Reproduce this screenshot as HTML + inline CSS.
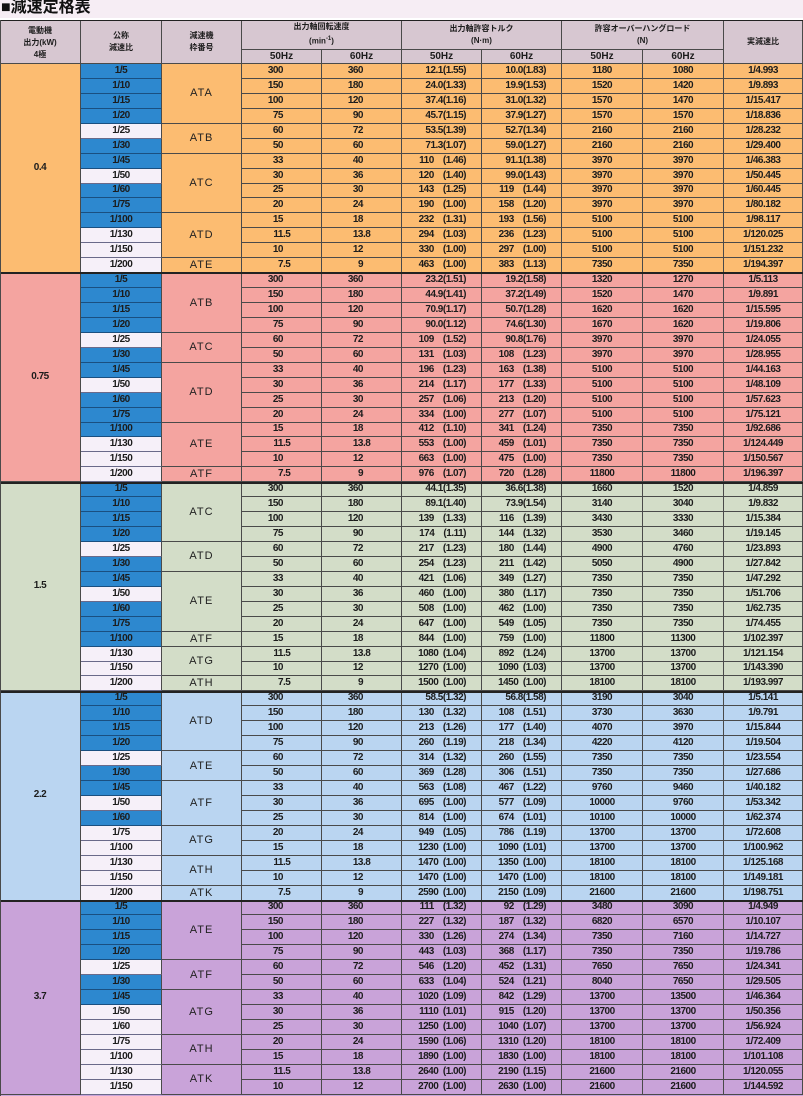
<!DOCTYPE html>
<html><head><meta charset="utf-8">
<style>
*{margin:0;padding:0;box-sizing:border-box}
html,body{width:803px;height:1096px;overflow:hidden;background:#fff}
body{position:relative;font-family:"Liberation Sans","Noto Sans CJK JP",sans-serif;color:#1c1c1c}
#title{position:absolute;left:0;top:0;width:803px;height:18px;background:#f6edf4}
#title span{position:absolute;left:1px;top:-2px;font-weight:bold;font-size:16px;line-height:20px;font-family:"Liberation Sans","Noto Sans CJK JP",sans-serif;color:#111}
.band{position:absolute;left:0;width:803px;z-index:0}
.ln{position:absolute;left:0;width:803px;background:#222;z-index:2}
#g{position:absolute;left:0;top:20px;width:803px;z-index:1;display:grid;grid-template-columns:81px 81px 80px 80px 80px 80px 80px 81px 81px 79px;grid-template-rows:30px 14px repeat(69,14.95px)}
#g>div{border-right:1px solid #4a4a4a;border-bottom:1px solid #4a4a4a;display:flex;align-items:center;justify-content:center;font-size:10px;font-weight:bold;letter-spacing:-.5px;white-space:pre;overflow:hidden;line-height:12px}
#g>div.h{font-size:8px;letter-spacing:0;line-height:12px;text-align:center;font-family:"Liberation Sans","Noto Sans CJK JP",sans-serif}
#g>div.h2{font-size:10px;letter-spacing:0}
#g>div.b{background:#2d88cf;border-bottom-color:#1a4f80}
#g>div.w{background:#f6f0f9;border-bottom-color:#6a6a8a}
#g>div.t{font-size:11px;font-weight:normal;letter-spacing:1px;color:#222}
#g>div.s{justify-content:flex-start}
#g>div.s i{font-style:normal;display:inline-block;width:41px;text-align:right}
#g>div.q{justify-content:flex-end;padding-right:15px}
#g>div.m{font-size:10px}
</style></head><body>
<div id="title"><span>■減速定格表</span></div>
<div class="band" style="top:20px;height:44px;background:#d7c7d1"></div>
<div class="band" style="top:64px;height:209.3px;background:#fcbc71"></div>
<div class="band" style="top:273.3px;height:209.3px;background:#f4a4a0"></div>
<div class="band" style="top:482.6px;height:209.3px;background:#d3ddc8"></div>
<div class="band" style="top:691.9px;height:209.3px;background:#bad5f1"></div>
<div class="band" style="top:901.2px;height:195px;background:#c9a3d9"></div>
<div class="ln" style="top:19.5px;height:1px"></div>
<div class="ln" style="top:272.3px;height:2px"></div>
<div class="ln" style="top:481.6px;height:2px"></div>
<div class="ln" style="top:690.9px;height:2px"></div>
<div class="ln" style="top:900.2px;height:2px"></div>
<div style="position:absolute;left:0;top:20px;width:1px;height:1076px;background:#4a4a4a;z-index:2"></div>
<div id="g">
<div class="h" style="grid-row:span 2;align-items:flex-start;padding-top:5px"><p>電動機<br>出力(kW)<br>4極</p></div>
<div class="h" style="grid-row:span 2"><p>公称<br>減速比</p></div>
<div class="h" style="grid-row:span 2"><p>減速機<br>枠番号</p></div>
<div class="h" style="grid-column:span 2"><p>出力軸回転速度<br>(min<sup style="font-size:6px">-1</sup>)</p></div>
<div class="h" style="grid-column:span 2"><p>出力軸許容トルク<br>(N·m)</p></div>
<div class="h" style="grid-column:span 2"><p>許容オーバーハングロード<br>(N)</p></div>
<div class="h" style="grid-row:span 2"><p>実減速比</p></div>
<div class="h h2">50Hz</div><div class="h h2">60Hz</div><div class="h h2">50Hz</div><div class="h h2">60Hz</div><div class="h h2">50Hz</div><div class="h h2">60Hz</div>

<div class="m" style="grid-row:span 14">0.4</div>
<div class="b">1/5</div><div class="t" style="grid-row:span 4">ATA</div><div class="s"><i>300</i></div><div class="s"><i>360</i></div><div class="q">12.1(1.55)</div><div class="q">10.0(1.83)</div><div>1180</div><div>1080</div><div>1/4.993</div>
<div class="b">1/10</div><div class="s"><i>150</i></div><div class="s"><i>180</i></div><div class="q">24.0(1.33)</div><div class="q">19.9(1.53)</div><div>1520</div><div>1420</div><div>1/9.893</div>
<div class="b">1/15</div><div class="s"><i>100</i></div><div class="s"><i>120</i></div><div class="q">37.4(1.16)</div><div class="q">31.0(1.32)</div><div>1570</div><div>1470</div><div>1/15.417</div>
<div class="b">1/20</div><div class="s"><i>75</i></div><div class="s"><i>90</i></div><div class="q">45.7(1.15)</div><div class="q">37.9(1.27)</div><div>1570</div><div>1570</div><div>1/18.836</div>
<div class="w">1/25</div><div class="t" style="grid-row:span 2">ATB</div><div class="s"><i>60</i></div><div class="s"><i>72</i></div><div class="q">53.5(1.39)</div><div class="q">52.7(1.34)</div><div>2160</div><div>2160</div><div>1/28.232</div>
<div class="b">1/30</div><div class="s"><i>50</i></div><div class="s"><i>60</i></div><div class="q">71.3(1.07)</div><div class="q">59.0(1.27)</div><div>2160</div><div>2160</div><div>1/29.400</div>
<div class="b">1/45</div><div class="t" style="grid-row:span 4">ATC</div><div class="s"><i>33</i></div><div class="s"><i>40</i></div><div class="q">110    (1.46)</div><div class="q">91.1(1.38)</div><div>3970</div><div>3970</div><div>1/46.383</div>
<div class="w">1/50</div><div class="s"><i>30</i></div><div class="s"><i>36</i></div><div class="q">120    (1.40)</div><div class="q">99.0(1.43)</div><div>3970</div><div>3970</div><div>1/50.445</div>
<div class="b">1/60</div><div class="s"><i>25</i></div><div class="s"><i>30</i></div><div class="q">143    (1.25)</div><div class="q">119    (1.44)</div><div>3970</div><div>3970</div><div>1/60.445</div>
<div class="b">1/75</div><div class="s"><i>20</i></div><div class="s"><i>24</i></div><div class="q">190    (1.00)</div><div class="q">158    (1.20)</div><div>3970</div><div>3970</div><div>1/80.182</div>
<div class="b">1/100</div><div class="t" style="grid-row:span 3">ATD</div><div class="s"><i>15</i></div><div class="s"><i>18</i></div><div class="q">232    (1.31)</div><div class="q">193    (1.56)</div><div>5100</div><div>5100</div><div>1/98.117</div>
<div class="w">1/130</div><div class="s"><i>11</i>.5</div><div class="s"><i>13</i>.8</div><div class="q">294    (1.03)</div><div class="q">236    (1.23)</div><div>5100</div><div>5100</div><div>1/120.025</div>
<div class="w">1/150</div><div class="s"><i>10</i></div><div class="s"><i>12</i></div><div class="q">330    (1.00)</div><div class="q">297    (1.00)</div><div>5100</div><div>5100</div><div>1/151.232</div>
<div class="w">1/200</div><div class="t">ATE</div><div class="s"><i>7</i>.5</div><div class="s"><i>9</i></div><div class="q">463    (1.00)</div><div class="q">383    (1.13)</div><div>7350</div><div>7350</div><div>1/194.397</div>

<div class="m" style="grid-row:span 14">0.75</div>
<div class="b">1/5</div><div class="t" style="grid-row:span 4">ATB</div><div class="s"><i>300</i></div><div class="s"><i>360</i></div><div class="q">23.2(1.51)</div><div class="q">19.2(1.58)</div><div>1320</div><div>1270</div><div>1/5.113</div>
<div class="b">1/10</div><div class="s"><i>150</i></div><div class="s"><i>180</i></div><div class="q">44.9(1.41)</div><div class="q">37.2(1.49)</div><div>1520</div><div>1470</div><div>1/9.891</div>
<div class="b">1/15</div><div class="s"><i>100</i></div><div class="s"><i>120</i></div><div class="q">70.9(1.17)</div><div class="q">50.7(1.28)</div><div>1620</div><div>1620</div><div>1/15.595</div>
<div class="b">1/20</div><div class="s"><i>75</i></div><div class="s"><i>90</i></div><div class="q">90.0(1.12)</div><div class="q">74.6(1.30)</div><div>1670</div><div>1620</div><div>1/19.806</div>
<div class="w">1/25</div><div class="t" style="grid-row:span 2">ATC</div><div class="s"><i>60</i></div><div class="s"><i>72</i></div><div class="q">109    (1.52)</div><div class="q">90.8(1.76)</div><div>3970</div><div>3970</div><div>1/24.055</div>
<div class="b">1/30</div><div class="s"><i>50</i></div><div class="s"><i>60</i></div><div class="q">131    (1.03)</div><div class="q">108    (1.23)</div><div>3970</div><div>3970</div><div>1/28.955</div>
<div class="b">1/45</div><div class="t" style="grid-row:span 4">ATD</div><div class="s"><i>33</i></div><div class="s"><i>40</i></div><div class="q">196    (1.23)</div><div class="q">163    (1.38)</div><div>5100</div><div>5100</div><div>1/44.163</div>
<div class="w">1/50</div><div class="s"><i>30</i></div><div class="s"><i>36</i></div><div class="q">214    (1.17)</div><div class="q">177    (1.33)</div><div>5100</div><div>5100</div><div>1/48.109</div>
<div class="b">1/60</div><div class="s"><i>25</i></div><div class="s"><i>30</i></div><div class="q">257    (1.06)</div><div class="q">213    (1.20)</div><div>5100</div><div>5100</div><div>1/57.623</div>
<div class="b">1/75</div><div class="s"><i>20</i></div><div class="s"><i>24</i></div><div class="q">334    (1.00)</div><div class="q">277    (1.07)</div><div>5100</div><div>5100</div><div>1/75.121</div>
<div class="b">1/100</div><div class="t" style="grid-row:span 3">ATE</div><div class="s"><i>15</i></div><div class="s"><i>18</i></div><div class="q">412    (1.10)</div><div class="q">341    (1.24)</div><div>7350</div><div>7350</div><div>1/92.686</div>
<div class="w">1/130</div><div class="s"><i>11</i>.5</div><div class="s"><i>13</i>.8</div><div class="q">553    (1.00)</div><div class="q">459    (1.01)</div><div>7350</div><div>7350</div><div>1/124.449</div>
<div class="w">1/150</div><div class="s"><i>10</i></div><div class="s"><i>12</i></div><div class="q">663    (1.00)</div><div class="q">475    (1.00)</div><div>7350</div><div>7350</div><div>1/150.567</div>
<div class="w">1/200</div><div class="t">ATF</div><div class="s"><i>7</i>.5</div><div class="s"><i>9</i></div><div class="q">976    (1.07)</div><div class="q">720    (1.28)</div><div>11800</div><div>11800</div><div>1/196.397</div>

<div class="m" style="grid-row:span 14">1.5</div>
<div class="b">1/5</div><div class="t" style="grid-row:span 4">ATC</div><div class="s"><i>300</i></div><div class="s"><i>360</i></div><div class="q">44.1(1.35)</div><div class="q">36.6(1.38)</div><div>1660</div><div>1520</div><div>1/4.859</div>
<div class="b">1/10</div><div class="s"><i>150</i></div><div class="s"><i>180</i></div><div class="q">89.1(1.40)</div><div class="q">73.9(1.54)</div><div>3140</div><div>3040</div><div>1/9.832</div>
<div class="b">1/15</div><div class="s"><i>100</i></div><div class="s"><i>120</i></div><div class="q">139    (1.33)</div><div class="q">116    (1.39)</div><div>3430</div><div>3330</div><div>1/15.384</div>
<div class="b">1/20</div><div class="s"><i>75</i></div><div class="s"><i>90</i></div><div class="q">174    (1.11)</div><div class="q">144    (1.32)</div><div>3530</div><div>3460</div><div>1/19.145</div>
<div class="w">1/25</div><div class="t" style="grid-row:span 2">ATD</div><div class="s"><i>60</i></div><div class="s"><i>72</i></div><div class="q">217    (1.23)</div><div class="q">180    (1.44)</div><div>4900</div><div>4760</div><div>1/23.893</div>
<div class="b">1/30</div><div class="s"><i>50</i></div><div class="s"><i>60</i></div><div class="q">254    (1.23)</div><div class="q">211    (1.42)</div><div>5050</div><div>4900</div><div>1/27.842</div>
<div class="b">1/45</div><div class="t" style="grid-row:span 4">ATE</div><div class="s"><i>33</i></div><div class="s"><i>40</i></div><div class="q">421    (1.06)</div><div class="q">349    (1.27)</div><div>7350</div><div>7350</div><div>1/47.292</div>
<div class="w">1/50</div><div class="s"><i>30</i></div><div class="s"><i>36</i></div><div class="q">460    (1.00)</div><div class="q">380    (1.17)</div><div>7350</div><div>7350</div><div>1/51.706</div>
<div class="b">1/60</div><div class="s"><i>25</i></div><div class="s"><i>30</i></div><div class="q">508    (1.00)</div><div class="q">462    (1.00)</div><div>7350</div><div>7350</div><div>1/62.735</div>
<div class="b">1/75</div><div class="s"><i>20</i></div><div class="s"><i>24</i></div><div class="q">647    (1.00)</div><div class="q">549    (1.05)</div><div>7350</div><div>7350</div><div>1/74.455</div>
<div class="b">1/100</div><div class="t">ATF</div><div class="s"><i>15</i></div><div class="s"><i>18</i></div><div class="q">844    (1.00)</div><div class="q">759    (1.00)</div><div>11800</div><div>11300</div><div>1/102.397</div>
<div class="w">1/130</div><div class="t" style="grid-row:span 2">ATG</div><div class="s"><i>11</i>.5</div><div class="s"><i>13</i>.8</div><div class="q">1080  (1.04)</div><div class="q">892    (1.24)</div><div>13700</div><div>13700</div><div>1/121.154</div>
<div class="w">1/150</div><div class="s"><i>10</i></div><div class="s"><i>12</i></div><div class="q">1270  (1.00)</div><div class="q">1090  (1.03)</div><div>13700</div><div>13700</div><div>1/143.390</div>
<div class="w">1/200</div><div class="t">ATH</div><div class="s"><i>7</i>.5</div><div class="s"><i>9</i></div><div class="q">1500  (1.00)</div><div class="q">1450  (1.00)</div><div>18100</div><div>18100</div><div>1/193.997</div>

<div class="m" style="grid-row:span 14">2.2</div>
<div class="b">1/5</div><div class="t" style="grid-row:span 4">ATD</div><div class="s"><i>300</i></div><div class="s"><i>360</i></div><div class="q">58.5(1.32)</div><div class="q">56.8(1.58)</div><div>3190</div><div>3040</div><div>1/5.141</div>
<div class="b">1/10</div><div class="s"><i>150</i></div><div class="s"><i>180</i></div><div class="q">130    (1.32)</div><div class="q">108    (1.51)</div><div>3730</div><div>3630</div><div>1/9.791</div>
<div class="b">1/15</div><div class="s"><i>100</i></div><div class="s"><i>120</i></div><div class="q">213    (1.26)</div><div class="q">177    (1.40)</div><div>4070</div><div>3970</div><div>1/15.844</div>
<div class="b">1/20</div><div class="s"><i>75</i></div><div class="s"><i>90</i></div><div class="q">260    (1.19)</div><div class="q">218    (1.34)</div><div>4220</div><div>4120</div><div>1/19.504</div>
<div class="w">1/25</div><div class="t" style="grid-row:span 2">ATE</div><div class="s"><i>60</i></div><div class="s"><i>72</i></div><div class="q">314    (1.32)</div><div class="q">260    (1.55)</div><div>7350</div><div>7350</div><div>1/23.554</div>
<div class="b">1/30</div><div class="s"><i>50</i></div><div class="s"><i>60</i></div><div class="q">369    (1.28)</div><div class="q">306    (1.51)</div><div>7350</div><div>7350</div><div>1/27.686</div>
<div class="b">1/45</div><div class="t" style="grid-row:span 3">ATF</div><div class="s"><i>33</i></div><div class="s"><i>40</i></div><div class="q">563    (1.08)</div><div class="q">467    (1.22)</div><div>9760</div><div>9460</div><div>1/40.182</div>
<div class="w">1/50</div><div class="s"><i>30</i></div><div class="s"><i>36</i></div><div class="q">695    (1.00)</div><div class="q">577    (1.09)</div><div>10000</div><div>9760</div><div>1/53.342</div>
<div class="b">1/60</div><div class="s"><i>25</i></div><div class="s"><i>30</i></div><div class="q">814    (1.00)</div><div class="q">674    (1.01)</div><div>10100</div><div>10000</div><div>1/62.374</div>
<div class="w">1/75</div><div class="t" style="grid-row:span 2">ATG</div><div class="s"><i>20</i></div><div class="s"><i>24</i></div><div class="q">949    (1.05)</div><div class="q">786    (1.19)</div><div>13700</div><div>13700</div><div>1/72.608</div>
<div class="w">1/100</div><div class="s"><i>15</i></div><div class="s"><i>18</i></div><div class="q">1230  (1.00)</div><div class="q">1090  (1.01)</div><div>13700</div><div>13700</div><div>1/100.962</div>
<div class="w">1/130</div><div class="t" style="grid-row:span 2">ATH</div><div class="s"><i>11</i>.5</div><div class="s"><i>13</i>.8</div><div class="q">1470  (1.00)</div><div class="q">1350  (1.00)</div><div>18100</div><div>18100</div><div>1/125.168</div>
<div class="w">1/150</div><div class="s"><i>10</i></div><div class="s"><i>12</i></div><div class="q">1470  (1.00)</div><div class="q">1470  (1.00)</div><div>18100</div><div>18100</div><div>1/149.181</div>
<div class="w">1/200</div><div class="t">ATK</div><div class="s"><i>7</i>.5</div><div class="s"><i>9</i></div><div class="q">2590  (1.00)</div><div class="q">2150  (1.09)</div><div>21600</div><div>21600</div><div>1/198.751</div>

<div class="m" style="grid-row:span 13">3.7</div>
<div class="b">1/5</div><div class="t" style="grid-row:span 4">ATE</div><div class="s"><i>300</i></div><div class="s"><i>360</i></div><div class="q">111    (1.32)</div><div class="q">92    (1.29)</div><div>3480</div><div>3090</div><div>1/4.949</div>
<div class="b">1/10</div><div class="s"><i>150</i></div><div class="s"><i>180</i></div><div class="q">227    (1.32)</div><div class="q">187    (1.32)</div><div>6820</div><div>6570</div><div>1/10.107</div>
<div class="b">1/15</div><div class="s"><i>100</i></div><div class="s"><i>120</i></div><div class="q">330    (1.26)</div><div class="q">274    (1.34)</div><div>7350</div><div>7160</div><div>1/14.727</div>
<div class="b">1/20</div><div class="s"><i>75</i></div><div class="s"><i>90</i></div><div class="q">443    (1.03)</div><div class="q">368    (1.17)</div><div>7350</div><div>7350</div><div>1/19.786</div>
<div class="w">1/25</div><div class="t" style="grid-row:span 2">ATF</div><div class="s"><i>60</i></div><div class="s"><i>72</i></div><div class="q">546    (1.20)</div><div class="q">452    (1.31)</div><div>7650</div><div>7650</div><div>1/24.341</div>
<div class="b">1/30</div><div class="s"><i>50</i></div><div class="s"><i>60</i></div><div class="q">633    (1.04)</div><div class="q">524    (1.21)</div><div>8040</div><div>7650</div><div>1/29.505</div>
<div class="b">1/45</div><div class="t" style="grid-row:span 3">ATG</div><div class="s"><i>33</i></div><div class="s"><i>40</i></div><div class="q">1020  (1.09)</div><div class="q">842    (1.29)</div><div>13700</div><div>13500</div><div>1/46.364</div>
<div class="w">1/50</div><div class="s"><i>30</i></div><div class="s"><i>36</i></div><div class="q">1110  (1.01)</div><div class="q">915    (1.20)</div><div>13700</div><div>13700</div><div>1/50.356</div>
<div class="w">1/60</div><div class="s"><i>25</i></div><div class="s"><i>30</i></div><div class="q">1250  (1.00)</div><div class="q">1040  (1.07)</div><div>13700</div><div>13700</div><div>1/56.924</div>
<div class="w">1/75</div><div class="t" style="grid-row:span 2">ATH</div><div class="s"><i>20</i></div><div class="s"><i>24</i></div><div class="q">1590  (1.06)</div><div class="q">1310  (1.20)</div><div>18100</div><div>18100</div><div>1/72.409</div>
<div class="w">1/100</div><div class="s"><i>15</i></div><div class="s"><i>18</i></div><div class="q">1890  (1.00)</div><div class="q">1830  (1.00)</div><div>18100</div><div>18100</div><div>1/101.108</div>
<div class="w">1/130</div><div class="t" style="grid-row:span 2">ATK</div><div class="s"><i>11</i>.5</div><div class="s"><i>13</i>.8</div><div class="q">2640  (1.00)</div><div class="q">2190  (1.15)</div><div>21600</div><div>21600</div><div>1/120.055</div>
<div class="w">1/150</div><div class="s"><i>10</i></div><div class="s"><i>12</i></div><div class="q">2700  (1.00)</div><div class="q">2630  (1.00)</div><div>21600</div><div>21600</div><div>1/144.592</div>
</div>
</body></html>
